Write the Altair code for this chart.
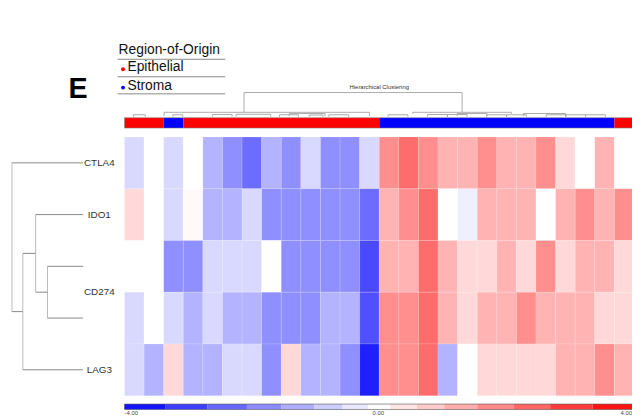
import altair as alt
import pandas as pd

# ---------------- data ----------------
row_ids = ["CTLA4", "IDO1", "CD274_a", "CD274_b", "LAG3"]
row_label_text = ["CTLA4", "IDO1", "CD274", "LAG3"]
row_label_pos = [0.5, 1.5, 3.0, 4.5]

col_region = (["Epithelial"] * 2 + ["Stroma"] + ["Epithelial"] * 10
              + ["Stroma"] * 12 + ["Epithelial"])

row_ctla4 = [-0.6, 0, -0.6, 0, -1.2, -1.75, -2.3, -1.2, -1.75, -0.6, -1.75, -1.75, -0.6,
             1.75, 2.3, 1.75, 1.2, 1.2, 1.75, 1.2, 1.2, 1.75, 0.6, 0, 1.2, 0]
row_ido1 = [0.6, 0, -0.6, 0.1, -1.2, -1.2, -0.6, -1.75, -1.75, -1.75, -1.75, -1.75, -2.3,
            1.2, 1.75, 2.3, 0, -0.25, 1.2, 1.2, 1.2, 0, 1.2, 1.75, 1.2, 1.75]
row_cd274_a = [0, 0, -1.75, -1.75, -0.6, -0.6, -0.6, 0, -1.75, -1.75, -1.75, -1.75, -2.85,
               1.2, 1.2, 2.3, 1.2, 0.6, 0.6, 1.2, 0.6, 1.75, 0.6, 1.2, 1.2, 0.6]
row_cd274_b = [-0.6, 0, -0.6, -1.2, -0.6, -1.2, -1.2, -1.75, -1.75, -1.75, -1.2, -1.2, -2.75,
               1.75, 1.75, 2.3, 1.2, 0.6, 1.2, 1.2, 1.75, 1.2, 1.2, 1.2, 0.6, 0.6]
row_lag3 = [-0.6, -1.2, 0.6, -1.2, -1.2, -0.6, -0.6, -1.75, 0.6, -1.2, -1.2, -1.75, -3.5,
            1.75, 1.75, 2.3, -1.2, 0, 0.6, 0.6, 0.6, 0.6, 1.2, 1.2, 1.75, 1.2]
heat_rows = [row_ctla4, row_ido1, row_cd274_a, row_cd274_b, row_lag3]

# gene dendrogram: (child a, child b, height); ids >= 5 are earlier merges
row_merges = [(2, 3, 0.5), (1, 5, 0.667), (6, 4, 0.847), (0, 7, 1.0)]

# sample dendrogram brackets (column units / relative height)
br_left = [6.10, 2.02, 14.71, 0.45, 2.47, 4.48, 5.69, 7.91, 8.41, 9.42, 10.43,
           13.45, 15.47, 16.48, 16.98, 18.49, 19.50, 20.36, 21.52, 22.52, 23.53]
br_right = [17.23, 12.50, 19.75, 1.06, 2.97, 5.49, 7.46, 8.87, 10.23, 10.13, 11.44,
            14.46, 16.48, 17.48, 18.49, 19.50, 20.51, 22.52, 22.52, 23.53, 24.54]
br_height = [1.0, 0.2, 0.2, 0.1, 0.1, 0.11, 0.12, 0.1, 0.15, 0.09, 0.1,
             0.1, 0.11, 0.11, 0.15, 0.1, 0.1, 0.15, 0.1, 0.1, 0.1]
br_left_child = [0.2, 0.05, 0.14, 0.02, 0.02, 0.02, 0.02, 0.02, 0.05, 0.02, 0.02,
                 0.02, 0.02, 0.02, 0.05, 0.02, 0.02, 0.05, 0.02, 0.02, 0.02]
br_right_child = [0.2, 0.05, 0.14, 0.02, 0.02, 0.02, 0.02, 0.02, 0.05, 0.02, 0.02,
                  0.02, 0.02, 0.02, 0.05, 0.02, 0.02, 0.05, 0.02, 0.02, 0.02]

legend_edges = [-4, -3.35, -2.69, -2.07, -1.53, -1.01, -0.56, -0.16, 0.19, 0.61,
                1.04, 1.56, 2.13, 2.71, 3.38, 4]
legend_tick_values = [-4, 0, 4]
legend_tick_labels = ["-4.00", "0.00", "4.00"]

region_names = ["Epithelial", "Stroma"]
region_colors = ["#ff0000", "#0000ff"]
legend_title = "Region-of-Origin"
panel_letter = "E"
dendro_title = "Hierarchical Clustering"

# ---------------- tables ----------------
n_cols = len(col_region)
heat = pd.DataFrame([
    {"c0": c, "c1": c + 1, "r0": r, "r1": r + 1, "value": heat_rows[r][c], "gene": row_ids[r]}
    for r in range(len(row_ids)) for c in range(n_cols)
])

# merge consecutive columns of the same region into runs for the annotation band
runs = []
start = 0
for c in range(1, n_cols + 1):
    if c == n_cols or col_region[c] != col_region[start]:
        runs.append({"c0": start, "c1": c, "region": col_region[start]})
        start = c
band = pd.DataFrame(runs)

pos = {i: i + 0.5 for i in range(len(row_ids))}
hgt = {i: 0.0 for i in range(len(row_ids))}
rsegs = []
for k, (a, b, h) in enumerate(row_merges):
    node = len(row_ids) + k
    rsegs.append({"x": h, "x2": h, "y": pos[a], "y2": pos[b], "kind": "v"})
    rsegs.append({"x": hgt[a], "x2": h, "y": pos[a], "y2": pos[a], "kind": "h"})
    rsegs.append({"x": hgt[b], "x2": h, "y": pos[b], "y2": pos[b], "kind": "h"})
    pos[node] = (pos[a] + pos[b]) / 2
    hgt[node] = h
rseg_df = pd.DataFrame(rsegs)

csegs = []
for l, r, h, lc, rc in zip(br_left, br_right, br_height, br_left_child, br_right_child):
    csegs.append({"x": l, "x2": r, "y": h, "y2": h})
    csegs.append({"x": l, "x2": l, "y": h, "y2": lc})
    csegs.append({"x": r, "x2": r, "y": h, "y2": rc})
cseg_df = pd.DataFrame(csegs)

leg_df = pd.DataFrame({"v0": legend_edges[:-1], "v1": legend_edges[1:],
                       "mid": [(a + b) / 2 for a, b in zip(legend_edges[:-1], legend_edges[1:])]})

# ---------------- scales ----------------
FONT = "Liberation Sans"
col_x = alt.Scale(domain=[0, 26], range=[118, 634], nice=False, zero=False)
row_y = alt.Scale(domain=[0, 5], range=[128, 390], nice=False, zero=False)
heat_color = alt.Scale(domain=[-4, 0, 4], range=["#0000ff", "#ffffff", "#ff0000"],
                       interpolate="rgb")

heat_layer = alt.Chart(heat).mark_rect(clip=True, stroke="#ffffff", strokeWidth=0.5,
                                       strokeOpacity=0.3).encode(
    x=alt.X("c0:Q", scale=col_x, axis=None), x2="c1:Q",
    y=alt.Y("r0:Q", scale=row_y, axis=None), y2="r1:Q",
    color=alt.Color("value:Q", scale=heat_color, legend=None),
    tooltip=["gene:N", "value:Q"],
)

band_layer = alt.Chart(band).mark_rect(clip=True).encode(
    x=alt.X("c0:Q", scale=col_x, axis=None), x2="c1:Q",
    y=alt.value(108.5), y2=alt.value(119),
    color=alt.Color("region:N", scale=alt.Scale(domain=region_names, range=region_colors),
                    legend=None),
)
band_outline = alt.Chart(pd.DataFrame({"a": [0], "b": [n_cols]})).mark_rect(
    clip=True, fill=None, stroke="#888888", strokeWidth=0.6
).encode(
    x=alt.X("a:Q", scale=col_x, axis=None), x2="b:Q",
    y=alt.value(108.5), y2=alt.value(119),
)

col_dendro = alt.Chart(cseg_df).mark_rule(color="#aaaaaa", strokeWidth=1).encode(
    x=alt.X("x:Q", scale=col_x, axis=None), x2="x2:Q",
    y=alt.Y("y:Q", scale=alt.Scale(domain=[0, 1], range=[108, 83], nice=False, zero=False),
            axis=None), y2="y2:Q",
)

row_dendro = alt.Chart(rseg_df).mark_rule(strokeWidth=1).encode(
    x=alt.X("x:Q", scale=alt.Scale(domain=[0, 1], range=[76, 4], nice=False, zero=False),
            axis=None), x2="x2:Q",
    y=alt.Y("y:Q", scale=row_y, axis=None), y2="y2:Q",
    color=alt.Color("kind:N", scale=alt.Scale(domain=["h", "v"], range=["#888888", "#bbbbbb"]),
                    legend=None),
)

row_labels = alt.Chart(pd.DataFrame({"label": row_label_text, "p": row_label_pos})).mark_text(
    font=FONT, fontSize=10, color="#333333", align="center", baseline="middle"
).encode(
    x=alt.value(92.5),
    y=alt.Y("p:Q", scale=row_y, axis=None),
    text="label:N",
)

leg_x = alt.Scale(domain=[-4, 4], range=[118, 632], nice=False, zero=False)
legend_bar = alt.Chart(leg_df).mark_rect().encode(
    x=alt.X("v0:Q", scale=leg_x, axis=None), x2="v1:Q",
    y=alt.value(398.5), y2=alt.value(404),
    color=alt.Color("mid:Q", scale=heat_color, legend=None),
)
legend_outline = alt.Chart(pd.DataFrame({"a": [legend_edges[0]], "b": [legend_edges[-1]]})).mark_rect(
    fill=None, stroke="#555555", strokeWidth=0.6
).encode(
    x=alt.X("a:Q", scale=leg_x, axis=None), x2="b:Q",
    y=alt.value(398.5), y2=alt.value(404),
)

tick_layers = []
for v, lab, al in zip(legend_tick_values, legend_tick_labels, ["left", "center", "right"]):
    tick_layers.append(
        alt.Chart(pd.DataFrame({"v": [v], "t": [lab]})).mark_text(
            font=FONT, fontSize=6, color="#444444", align=al, baseline="middle"
        ).encode(x=alt.X("v:Q", scale=leg_x, axis=None), y=alt.value(407.5), text="t:N")
    )

# categorical legend (top-left)
leg_title = alt.Chart(pd.DataFrame({"t": [legend_title]})).mark_text(
    font=FONT, fontSize=14, color="#111111", align="left", baseline="middle"
).encode(x=alt.value(112), y=alt.value(40), text="t:N")

leg_rules = []
for yy in [49.3, 67.0, 84.3]:
    leg_rules.append(
        alt.Chart(pd.DataFrame({"t": [legend_title]})).mark_rule(color="#888888", strokeWidth=1).encode(
            x=alt.value(111), x2=alt.value(220), y=alt.value(yy))
    )

leg_items = []
for name, colr, yy in zip(region_names, region_colors, [57.5, 76.0]):
    d = pd.DataFrame({"t": [name]})
    leg_items.append(alt.Chart(d).mark_text(
        font=FONT, fontSize=14, color="#111111", align="left", baseline="middle"
    ).encode(x=alt.value(121), y=alt.value(yy), text="t:N"))
    leg_items.append(alt.Chart(d).mark_point(filled=True, size=16, color=colr, opacity=1).encode(
        x=alt.value(116.5), y=alt.value(yy + 2)))

letter = alt.Chart(pd.DataFrame({"t": [panel_letter]})).mark_text(
    font=FONT, fontSize=29, fontWeight="bold", color="#000000", align="center", baseline="middle"
).encode(x=alt.value(71), y=alt.value(80), text="t:N")

dtitle = alt.Chart(pd.DataFrame({"t": [dendro_title]})).mark_text(
    font=FONT, fontSize=6, color="#333333", align="center", baseline="middle"
).encode(x=alt.value(376), y=alt.value(77), text="t:N")

chart = alt.layer(
    heat_layer, band_layer, band_outline, col_dendro, row_dendro, row_labels,
    legend_bar, legend_outline, *tick_layers,
    leg_title, *leg_rules, *leg_items, letter, dtitle,
).resolve_scale(
    x="independent", y="independent", color="independent"
).properties(
    width=632, height=411, padding=0, autosize=alt.AutoSizeParams(type="none")
).configure_view(stroke=None)

chart.save("out.html", embed_options={"renderer": "svg", "actions": False})
